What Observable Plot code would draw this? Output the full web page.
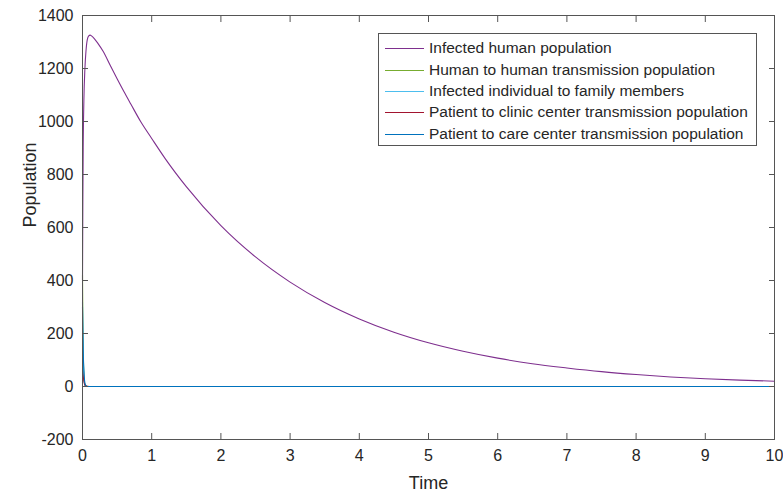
<!DOCTYPE html>
<html>
<head>
<meta charset="utf-8">
<script src="https://cdn.jsdelivr.net/npm/d3@7"></script>
<script src="https://cdn.jsdelivr.net/npm/@observablehq/plot@0.6"></script>
<style>
  body { margin: 0; background: #fff; font-family: "Liberation Sans", Arial, sans-serif; }
  #wrap { position: relative; width: 783px; height: 494px; }
  #legend { position: absolute; left: 378px; top: 33px; width: 379px; height: 113px;
            border: 1px solid #555; background: #fff; box-sizing: border-box; }
  .row { position: absolute; left: 0; height: 20px; display: flex; align-items: center;
         font-size: 15.5px; color: #262626; white-space: nowrap; }
  .row .sw { width: 39px; height: 0; border-top: 1.2px solid; margin-left: 6px; margin-right: 5px; }
</style>
</head>
<body>
<div id="wrap"><div id="chart"></div><div id="legend"></div></div>
<script>
const seriesNames = [
  "Infected human population",
  "Human to human transmission population",
  "Infected individual to family members",
  "Patient to clinic center transmission population",
  "Patient to care center transmission population"
];
const seriesColors = ["#7E2F8E", "#77AC30", "#4DBEEE", "#A2142F", "#0072BD"];

// Infected human population
const tInfected = [0, 0.005, 0.01, 0.02, 0.035, 0.05, 0.07, 0.09, 0.11, 0.13, 0.17, 0.22, 0.3, 0.4, 0.5, 0.6, 0.7, 0.84, 1, 1.2, 1.5, 2, 2.5, 3, 3.5, 4, 4.5, 5, 5.5, 6, 6.5, 7, 7.5, 8, 8.5, 9, 9.5, 10];
const yInfected = [400, 700, 900, 1080, 1200, 1265, 1310, 1323, 1326, 1323, 1313, 1296, 1264, 1212, 1161, 1112, 1065, 1000, 936, 858, 754, 607, 489, 394, 317, 255, 205, 165, 133, 107, 86, 70, 56, 45, 36, 29, 24, 20];
// Human to human transmission population
const tHuman = [0, 0.005, 0.01, 0.02, 0.03, 0.05, 0.1, 10];
const yHuman = [420, 250, 140, 45, 12, 2, 0, 0];
// Infected individual to family members
const tFamily = [0, 0.005, 0.01, 0.02, 0.03, 0.05, 0.1, 10];
const yFamily = [320, 200, 120, 40, 10, 1, 0, 0];
// Patient to clinic center transmission population
const tClinic = [0, 0.01, 0.02, 0.04, 0.1, 10];
const yClinic = [60, 40, 20, 3, 0, 0];
// Patient to care center transmission population
const tCare = [0, 0.005, 0.01, 0.02, 0.03, 0.04, 0.05, 0.07, 10];
const yCare = [300, 210, 140, 60, 22, 8, 2, 0, 0];

const xTicks = [0, 1, 2, 3, 4, 5, 6, 7, 8, 9, 10];
const yTicks = [-200, 0, 200, 400, 600, 800, 1000, 1200, 1400];

const allT = [tInfected, tHuman, tFamily, tClinic, tCare];
const allY = [yInfected, yHuman, yFamily, yClinic, yCare];
const rows = [];
allT.forEach((ts, i) => ts.forEach((t, j) => rows.push({series: seriesNames[i], t, v: allY[i][j]})));

const axisColor = "#555";
const textColor = "#262626";
const fmt = d => String(d);

const chart = Plot.plot({
  width: 783,
  height: 494,
  marginLeft: 82,
  marginRight: 9,
  marginTop: 15,
  marginBottom: 55,
  style: {fontFamily: "'Liberation Sans', Arial, sans-serif", fontSize: "16px", color: textColor, background: "#fff"},
  x: {domain: [0, 10], label: null},
  y: {domain: [-200, 1400], label: null},
  color: {domain: seriesNames, range: seriesColors},
  marks: [
    Plot.line(rows, {x: "t", y: "v", z: "series", stroke: "series", strokeWidth: 1.1, curve: "monotone-x"}),
    Plot.frame({stroke: axisColor, strokeWidth: 1}),
    Plot.axisX({anchor: "bottom", ticks: xTicks, tickFormat: fmt, tickSize: -6, tickPadding: 16, stroke: axisColor, fill: textColor, fontSize: 16, label: null}),
    Plot.axisX({anchor: "top", ticks: xTicks, tickSize: -6, tickFormat: () => "", stroke: axisColor, label: null}),
    Plot.axisY({anchor: "left", ticks: yTicks, tickFormat: fmt, tickSize: -6, tickPadding: 15, stroke: axisColor, fill: textColor, fontSize: 16, label: null}),
    Plot.axisY({anchor: "right", ticks: yTicks, tickSize: -6, tickFormat: () => "", stroke: axisColor, label: null}),
    Plot.text(["Time"], {frameAnchor: "bottom", dy: 49, fontSize: 18, fill: textColor}),
    Plot.text(["Population"], {frameAnchor: "left", dx: -52, rotate: -90, fontSize: 18, fill: textColor})
  ]
});
document.getElementById("chart").appendChild(chart);

const legend = document.getElementById("legend");
const rowTops = [4, 26, 47, 68, 90];
seriesNames.forEach((name, i) => {
  const r = document.createElement("div");
  r.className = "row";
  r.style.top = rowTops[i] + "px";
  const sw = document.createElement("span");
  sw.className = "sw";
  sw.style.borderTopColor = seriesColors[i];
  const tx = document.createElement("span");
  tx.textContent = name;
  r.appendChild(sw); r.appendChild(tx);
  legend.appendChild(r);
});
</script>
</body>
</html>
